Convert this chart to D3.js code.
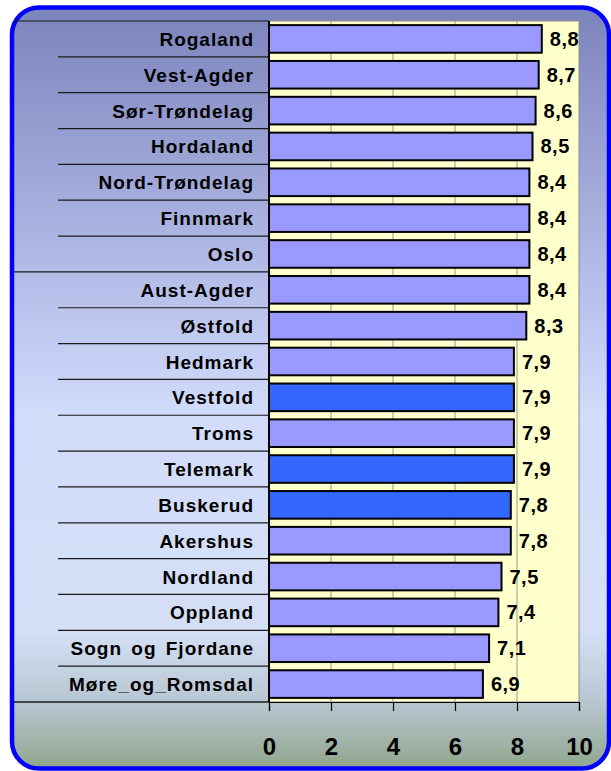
<!DOCTYPE html>
<html>
<head>
<meta charset="utf-8">
<script src="https://cdn.jsdelivr.net/npm/d3@7/dist/d3.min.js"></script>
<style>
  html, body { margin: 0; padding: 0; background: #ffffff; }
  svg { display: block; }
  text { font-family: Arial, "Liberation Sans", sans-serif; font-weight: bold; fill: #000; }
</style>
</head>
<body>
<svg id="chart" width="611" height="771"></svg>
<script>
// ---- data ----
const categories = ["Rogaland","Vest-Agder","Sør-Trøndelag","Hordaland","Nord-Trøndelag","Finnmark","Oslo","Aust-Agder","Østfold","Hedmark","Vestfold","Troms","Telemark","Buskerud","Akershus","Nordland","Oppland","Sogn og Fjordane","Møre_og_Romsdal"];
const values = [8.8,8.7,8.6,8.5,8.4,8.4,8.4,8.4,8.3,7.9,7.9,7.9,7.9,7.8,7.8,7.5,7.4,7.1,6.9];
const highlighted = ["Vestfold","Telemark","Buskerud"];
const xTicks = [0,2,4,6,8,10];

const data = categories.map((c,i) => ({cat: c, val: values[i]}));

const svg = d3.select("#chart");
const plot = {left: 269, right: 579, top: 21, bottom: 702};

// background gradient
const defs = svg.append("defs");
const grad = defs.append("linearGradient").attr("id","bg").attr("x1",0).attr("y1",0).attr("x2",0).attr("y2",1);
[[0,"#7c84bc"],[0.05,"#848bc3"],[0.35,"#b4bce8"],[0.54,"#d2dcfb"],[0.82,"#d4dff5"],[0.91,"#b9c7d3"],[1,"#90a68c"]]
  .forEach(([o,c]) => grad.append("stop").attr("offset",o).attr("stop-color",c));

svg.append("rect")
  .attr("x",12).attr("y",7.5).attr("width",597).attr("height",761)
  .attr("rx",27).attr("ry",27)
  .attr("fill","url(#bg)")
  .attr("stroke","#0000ff").attr("stroke-width",4.5);

// scales
const x = d3.scaleLinear().domain([0,10]).range([plot.left, plot.right]);
const rows = d3.scaleBand().domain(categories).range([plot.top, plot.bottom]).padding(0);
const y = d3.scaleBand().domain(categories).range([plot.top, plot.bottom]).paddingInner(0.23).paddingOuter(0.115);

// plot area
svg.append("rect")
  .attr("x",plot.left).attr("y",plot.top)
  .attr("width",plot.right-plot.left).attr("height",plot.bottom-plot.top)
  .attr("fill","#ffffcc").attr("stroke","#8c8c8c").attr("stroke-width",1);

// gridlines
svg.append("g").selectAll("line").data(xTicks.filter(t => t>0 && t<10)).join("line")
  .attr("x1",d=>x(d)).attr("x2",d=>x(d))
  .attr("y1",plot.top).attr("y2",plot.bottom)
  .attr("stroke","#9a9a8a").attr("stroke-width",1);

// row separators (category axis ticks)
const step = rows.step();
const fullRows = [0,7,19];
svg.append("g").selectAll("line").data(d3.range(categories.length+1)).join("line")
  .attr("x1",i => fullRows.includes(i) ? 14 : 58)
  .attr("x2",plot.left)
  .attr("y1",i => plot.top + i*step).attr("y2",i => plot.top + i*step)
  .attr("stroke","#1a1a1a").attr("stroke-width",1.2);

// bars
svg.append("g").selectAll("rect").data(data).join("rect")
  .attr("x",x(0))
  .attr("y",d=>y(d.cat))
  .attr("width",d=>x(d.val)-x(0))
  .attr("height",y.bandwidth())
  .attr("fill",d=>highlighted.includes(d.cat) ? "#3366ff" : "#9999ff")
  .attr("stroke","#000").attr("stroke-width",2);

// category labels
svg.append("g").selectAll("text").data(data).join("text")
  .attr("x",254)
  .attr("y",d=>rows(d.cat)+rows.bandwidth()/2+7)
  .attr("text-anchor","end")
  .style("font-size","19px")
  .style("letter-spacing","1px")
  .style("word-spacing","3px")
  .text(d=>d.cat);

// value labels
const fmt = v => d3.format(".1f")(v).replace(".",",");
svg.append("g").selectAll("text").data(data).join("text")
  .attr("x",d=>x(d.val)+8)
  .attr("y",d=>rows(d.cat)+rows.bandwidth()/2+7)
  .style("font-size","20px")
  .style("letter-spacing","0.5px")
  .text(d=>fmt(d.val));

// axes
svg.append("line")
  .attr("x1",plot.left).attr("x2",plot.left)
  .attr("y1",plot.top).attr("y2",plot.bottom)
  .attr("stroke","#000").attr("stroke-width",2);

const xAxis = svg.append("g")
  .attr("transform",`translate(0,${plot.bottom})`)
  .call(d3.axisBottom(x).tickValues(xTicks).tickFormat(d3.format("d")).tickSize(9).tickPadding(27));
xAxis.select(".domain").attr("stroke","#000").attr("stroke-width",1.2);
xAxis.selectAll(".tick line").attr("stroke","#000").attr("stroke-width",1.2);
xAxis.selectAll(".tick text")
  .style("font-size","24px")
  .style("font-family","Arial, 'Liberation Sans', sans-serif")
  .style("font-weight","bold")
  .attr("fill","#000");
// full-width bottom separator
svg.append("line").attr("x1",14).attr("x2",plot.left).attr("y1",plot.bottom).attr("y2",plot.bottom)
  .attr("stroke","#1a1a1a").attr("stroke-width",1.2);
</script>
</body>
</html>
